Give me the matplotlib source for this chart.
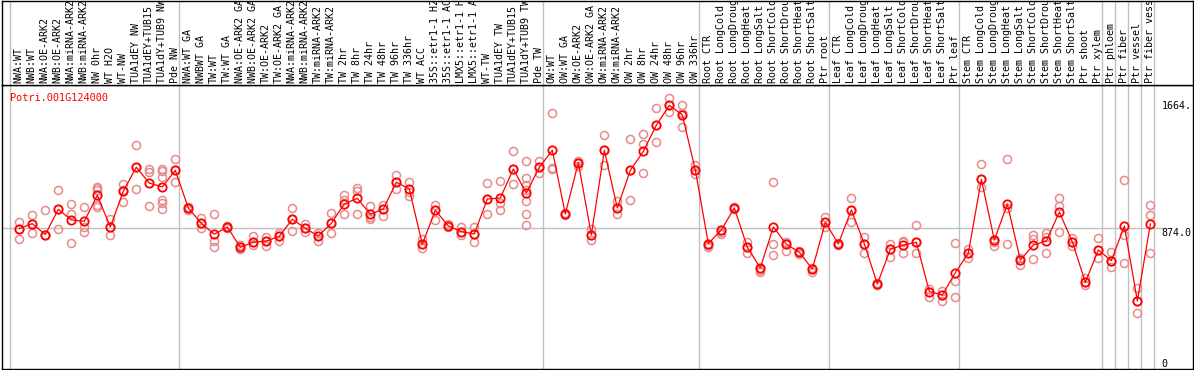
import numpy as np
import matplotlib
matplotlib.use("Agg")
import matplotlib.pyplot as plt

gene = "Potri.001G124000"

# sample labels, as shown (truncated like the original)
grp_nw = ["NWA:WT", "NWB:WT", "NWA:OE-ARK2", "NWB:OE-ARK2", "NWA:miRNA-ARK2",
          "NWB:miRNA-ARK2", "NW 0hr", "WT H2O", "WT-NW", "TUA1dEY NW",
          "TUA1dEY+TUB15", "TUA1dY+TUB9 NW", "Pde NW"]
grp_tw = ["NWA:WT GA", "NWBWT GA", "TW:WT", "TW:WT GA", "NWA:OE-ARK2 GA",
          "NWB:OE-ARK2 GA", "TW:OE-ARK2", "TW:OE-ARK2 GA", "NWA:miRNA-ARK2",
          "NWB:miRNA-ARK2", "TW:miRNA-ARK2", "TW:miRNA-ARK2", "TW 2hr", "TW 8hr",
          "TW 24hr", "TW 48hr", "TW 96hr", "TW 336hr", "WT ACC", "35S::etr1-1 H2",
          "35S::etr1-1 AC", "LMX5::etr1-1 H", "LMX5::etr1-1 A", "WT-TW",
          "TUA1dEY TW", "TUA1dEY+TUB15", "TUA1dY+TUB9 TW", "Pde TW"]
grp_ow = ["OW:WT", "OW:WT GA", "OW:OE-ARK2", "OW:OE-ARK2 GA", "OW:miRNA-ARK2",
          "OW:miRNA-ARK2", "OW 2hr", "OW 8hr", "OW 24hr", "OW 48hr", "OW 96hr",
          "OW 336hr"]
grp_root = ["Root CTR", "Root LongCold", "Root LongDroug", "Root LongHeat",
            "Root LongSalt", "Root ShortCold", "Root ShortDrou", "Root ShortHeat",
            "Root ShortSalt", "Ptr root"]
grp_leaf = ["Leaf CTR", "Leaf LongCold", "Leaf LongDroug", "Leaf LongHeat",
            "Leaf LongSalt", "Leaf ShortCold", "Leaf ShortDrou", "Leaf ShortHeat",
            "Leaf ShortSalt", "Ptr leaf"]
grp_stem = ["Stem CTR", "Stem LongCold", "Stem LongDroug", "Stem LongHeat",
            "Stem LongSalt", "Stem ShortCold", "Stem ShortDrou", "Stem ShortHeat",
            "Stem ShortSalt", "Ptr shoot", "Ptr xylem"]
grp_ptr = [["Ptr phloem"], ["Ptr fiber"], ["Ptr vessel"], ["Ptr fiber vess"]]

groups = [grp_nw, grp_tw, grp_ow, grp_root, grp_leaf, grp_stem] + grp_ptr
labels = [s for g in groups for s in g]

means = [872, 903, 835, 992, 926, 917, 1079, 882, 1104, 1253, 1155, 1131, 1234,
         1000, 905, 837, 882, 756, 787, 795, 824, 930, 874, 826, 905, 1025, 1060,
         961, 994, 1160, 1118, 775, 986, 888, 853, 839, 1056, 1062, 1242, 1093, 1253,
         1358, 963, 1282, 833, 1358, 1000, 1234, 1352, 1514, 1638, 1578, 1236,
         779, 864, 1000, 756, 628, 882, 775, 725, 621, 911,
         777, 988, 777, 528, 744, 770, 787, 481, 460, 599,
         719, 1178, 801, 1025, 677, 770, 795, 975, 789, 539, 739,
         673, 888, 423, 901]

reps = [[913, 872, 810], [955, 903, 847], [988, 835, 830], [1112, 992, 868],
        [1023, 963, 785], [1004, 884, 851], [1133, 1122, 1112, 1019, 1008],
        [930, 882, 831], [1147, 1112, 1035], [1389, 1253, 1116], [1240, 1226, 1011],
        [1242, 1230, 1195, 1050, 1029, 992], [1302, 1234, 1164],
        [1008, 1000, 990], [940, 905, 874], [961, 797, 756], [888, 882, 876],
        [770, 756, 744], [826, 787, 770], [822, 795, 764], [847, 824, 797],
        [998, 930, 857], [899, 874, 853], [847, 826, 797], [967, 905, 843],
        [1079, 1050, 961], [1124, 1104, 961], [1011, 946, 932], [1019, 994, 951],
        [1205, 1160, 1116], [1162, 1100, 1075], [808, 775, 750], [1019, 986, 926],
        [899, 888, 880], [884, 853, 833], [884, 839, 791], [1153, 1056, 961],
        [1166, 1029, 988], [1352, 1242, 1147],
        [1290, 1184, 1143, 1112, 1046, 961, 893], [1290, 1253, 1215],
        [1588, 1251, 1240], [970, 963, 958], [1294, 1282, 1261], [868, 833, 801],
        [1451, 1358, 1267], [1046, 1000, 961], [1427, 1234, 1050],
        [1460, 1396, 1218], [1619, 1514, 1408], [1685, 1638, 1594],
        [1640, 1588, 1501], [1267, 1236, 1209],
        [779, 770, 760], [864, 850, 839], [1005, 1000, 995], [791, 756, 723],
        [628, 615, 605], [1160, 777, 708], [791, 775, 735], [730, 725, 715],
        [630, 621, 605], [946, 911, 880],
        [785, 777, 770], [1060, 988, 915], [822, 777, 719], [535, 528, 520],
        [777, 744, 694], [797, 790, 723], [895, 787, 719], [495, 481, 450],
        [487, 460, 425], [781, 549, 450],
        [744, 719, 688], [1271, 1178, 1133], [801, 790, 766], [1302, 998, 777],
        [690, 677, 646], [833, 806, 681], [847, 822, 719], [1060, 1013, 849],
        [812, 789, 764], [563, 539, 522], [814, 739, 688],
        [725, 673, 636], [1174, 833, 657], [501, 423, 346], [1019, 955, 719]]

ref_value = 874.0
top_label = "1664."

W, H = 1194, 370
fig = plt.figure(figsize=(W / 100, H / 100), dpi=100)
mono = "DejaVu Sans Mono"
grey = "#c0c0c0"

x = np.arange(len(labels))
xlim = (-1.33, 90.28)
ymax = 1764

ax = fig.add_axes([2 / W, 1 / H, 1191 / W, 284 / H])
hx = fig.add_axes([2 / W, 285 / H, 1191 / W, 84.5 / H], sharex=ax)

# group separators
bounds = np.cumsum([0] + [len(g) for g in groups]) - 0.715
for b in bounds:
    ax.axvline(b, color=grey, lw=1, zorder=0)
    hx.axvline(b, color=grey, lw=1, zorder=0)
ax.hlines(ref_value, xlim[0], 88.1, color=grey, lw=1, zorder=0)

for i, r in enumerate(reps):
    ax.plot([i] * len(r), r, "o", ms=5.8, mfc="none", mec="#e98a8a", mew=1.1,
            zorder=2)
ax.plot(x, means, "-", color="red", lw=0.9, zorder=3)
ax.plot(x, means, "o", ms=6.0, mfc="none", mec="red", mew=1.3, zorder=4)

ax.text(0.007, 0.972, gene, transform=ax.transAxes, color="red",
        family=mono, fontsize=7.4, va="top", ha="left")
ax.text(87.85, 1664, top_label, family=mono, fontsize=7.2, va="top", ha="left")
ax.text(87.85, ref_value, "874.0", family=mono, fontsize=7.2, va="top", ha="left")
ax.text(87.85, 0, "0", family=mono, fontsize=7.2, va="bottom", ha="left")

ax.set_xlim(*xlim)
ax.set_ylim(0, ymax)
hx.set_ylim(0, 1)
for a in (ax, hx):
    a.set_xticks([])
    a.set_yticks([])
    for s in a.spines.values():
        s.set_color("black")
        s.set_linewidth(1)

for i, lab in enumerate(labels):
    hx.text(i - 0.05, 0.025, lab, rotation=90, family=mono, fontsize=7.2,
            va="bottom", ha="center", clip_on=True)

fig.savefig("out.png", dpi=100)
